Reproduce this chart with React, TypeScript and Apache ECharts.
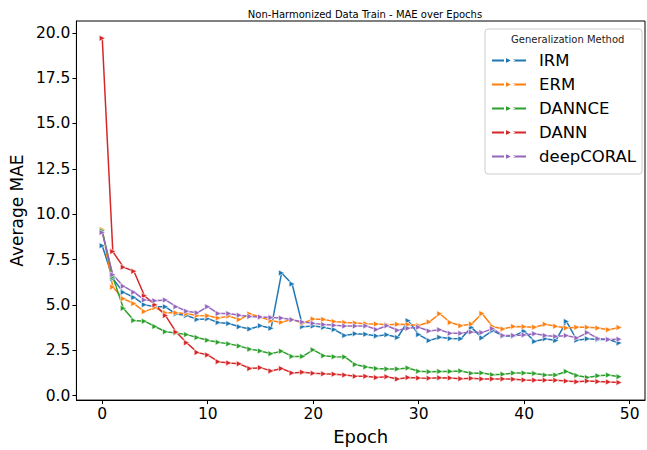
import React, { useEffect, useRef } from "react";
import * as echarts from "echarts";

const epochs: number[] = Array.from({ length: 50 }, (_, i) => i);

const irm = [8.26, 6.45, 5.69, 5.41, 5.01, 4.9, 4.89, 4.49, 4.41, 4.2, 4.24, 4.03, 3.97, 3.79, 3.67, 3.85, 3.71, 6.76, 6.15, 3.8, 3.83, 3.76, 3.64, 3.31, 3.41, 3.38, 3.29, 3.35, 3.2, 4.13, 3.36, 3.03, 3.21, 3.14, 3.13, 3.76, 3.18, 3.58, 3.29, 3.29, 3.55, 2.98, 3.13, 3.03, 4.09, 3.05, 3.13, 3.09, 3.09, 2.9];
const erm = [9.15, 5.98, 5.34, 5.07, 4.63, 4.85, 4.56, 4.56, 4.51, 4.41, 4.4, 4.28, 4.38, 4.19, 4.5, 4.33, 4.12, 4.04, 4.2, 3.98, 4.22, 4.2, 4.08, 4.03, 4.0, 3.96, 3.94, 3.9, 3.93, 3.92, 3.86, 4.06, 4.51, 4.03, 3.85, 3.94, 4.52, 3.81, 3.67, 3.81, 3.8, 3.77, 3.93, 3.82, 3.73, 3.76, 3.76, 3.72, 3.63, 3.75];
const dannce = [9.08, 6.54, 4.81, 4.14, 4.1, 3.81, 3.52, 3.45, 3.36, 3.2, 3.05, 2.94, 2.85, 2.73, 2.56, 2.46, 2.31, 2.45, 2.16, 2.16, 2.52, 2.2, 2.14, 2.13, 1.71, 1.58, 1.49, 1.47, 1.47, 1.52, 1.34, 1.31, 1.33, 1.33, 1.36, 1.23, 1.25, 1.15, 1.18, 1.24, 1.24, 1.22, 1.13, 1.13, 1.33, 1.11, 1.0, 1.09, 1.13, 1.04];
const dann = [19.7, 7.94, 7.08, 6.85, 5.5, 5.0, 4.41, 3.5, 2.91, 2.38, 2.24, 1.87, 1.8, 1.75, 1.49, 1.54, 1.36, 1.49, 1.25, 1.29, 1.23, 1.2, 1.18, 1.13, 1.06, 1.06, 0.99, 1.04, 0.91, 1.0, 0.97, 0.96, 0.98, 0.97, 0.93, 0.95, 0.92, 0.92, 0.92, 0.9, 0.86, 0.85, 0.85, 0.84, 0.8, 0.76, 0.8, 0.77, 0.75, 0.72];
const deepcoral = [8.99, 6.66, 6.03, 5.7, 5.27, 5.23, 5.27, 4.9, 4.65, 4.56, 4.9, 4.52, 4.52, 4.43, 4.36, 4.33, 4.3, 4.27, 4.18, 4.05, 3.98, 3.92, 3.87, 3.83, 3.83, 3.84, 3.64, 3.85, 3.6, 3.71, 3.77, 3.56, 3.63, 3.43, 3.43, 3.5, 3.47, 3.69, 3.31, 3.31, 3.34, 3.41, 3.31, 3.26, 3.31, 3.18, 3.47, 3.14, 3.09, 3.11];

const seriesNames = ["IRM", "ERM", "DANNCE", "DANN", "deepCORAL"];
const seriesData = [irm, erm, dannce, dann, deepcoral];
const colors = ["#1f77b4", "#ff7f0e", "#2ca02c", "#d62728", "#9467bd"];

const xTicks = [0, 10, 20, 30, 40, 50];
const yTicks = [0, 2.5, 5, 7.5, 10, 12.5, 15, 17.5, 20];

const FONT = "DejaVu Sans";

export default function App() {
  const ref = useRef<HTMLDivElement>(null);
  useEffect(() => {
    if (!ref.current) return;
    const chart = echarts.init(ref.current, undefined, { renderer: "svg" });
    chart.setOption({
      animation: false,
      backgroundColor: "#ffffff",
      textStyle: { fontFamily: FONT },
      title: {
        text: "Non-Harmonized Data Train - MAE over Epochs",
        left: 360,
        top: 4,
        textAlign: "center",
        textStyle: { fontFamily: FONT, fontSize: 10, fontWeight: "normal", color: "#000" },
      },
      grid: {
        left: 75,
        right: 2,
        top: 21,
        bottom: 47,
        containLabel: false,
        show: true,
        borderColor: "#000",
        borderWidth: 1,
        backgroundColor: "transparent",
      },
      legend: {
        orient: "vertical",
        left: 485,
        top: 29,
        width: 150,
        padding: [23, 6, 9, 6],
        itemWidth: 34,
        itemHeight: 10,
        itemGap: 7,
        backgroundColor: "rgba(255,255,255,0.8)",
        borderColor: "#cccccc",
        borderWidth: 1,
        borderRadius: 3,
        textStyle: { fontFamily: FONT, fontSize: 16.5, color: "#000", padding: [0, 0, 0, 8] },
        data: seriesNames,
      },
      graphic: [
        {
          type: "text",
          left: 511,
          top: 34,
          z: 100,
          style: { text: "Generalization Method", fontFamily: FONT, fontSize: 10, fill: "#222" },
        },
      ],
      xAxis: {
        type: "value",
        min: -2.45,
        max: 51.45,
        name: "Epoch",
        nameLocation: "middle",
        nameGap: 26,
        nameTextStyle: { fontFamily: FONT, fontSize: 18, color: "#000" },
        splitLine: { show: false },
        axisLine: { show: true, onZero: false, lineStyle: { color: "#000", width: 1 } },
        axisTick: { show: true, inside: false, length: 4, lineStyle: { color: "#000" }, customValues: xTicks },
        axisLabel: {
          fontFamily: FONT,
          fontSize: 15.5,
          color: "#000",
          margin: 6,
          customValues: xTicks,
          formatter: (v: number) => String(v),
        },
      },
      yAxis: {
        type: "value",
        min: -0.25,
        max: 20.65,
        name: "Average MAE",
        nameLocation: "middle",
        nameGap: 49,
        nameRotate: 90,
        nameTextStyle: { fontFamily: FONT, fontSize: 17, color: "#000" },
        splitLine: { show: false },
        axisLine: { show: true, onZero: false, lineStyle: { color: "#000", width: 1 } },
        axisTick: { show: true, inside: false, length: 4, lineStyle: { color: "#000" }, customValues: yTicks },
        axisLabel: {
          fontFamily: FONT,
          fontSize: 15.5,
          color: "#000",
          margin: 6,
          customValues: yTicks,
          formatter: (v: number) => v.toFixed(1),
        },
      },
      series: seriesNames.map((name, i) => ({
        name,
        type: "line",
        data: epochs.map((e, j) => [e, seriesData[i][j]]),
        symbol: "triangle",
        symbolSize: 6,
        symbolRotate: -90,
        showSymbol: true,
        lineStyle: { color: colors[i], width: 1.5 },
        itemStyle: { color: colors[i], borderColor: "#ffffff", borderWidth: 0.6 },
        emphasis: { disabled: true },
      })),
    });
    return () => chart.dispose();
  }, []);
  return <div ref={ref} style={{ position: "absolute", left: 0, top: 0, width: 647, height: 450 }} />;
}
